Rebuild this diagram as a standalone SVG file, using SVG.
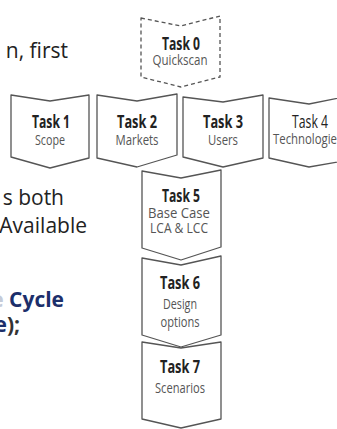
<svg xmlns="http://www.w3.org/2000/svg" width="337" height="429" viewBox="0 0 337 429">
<style>
.box{fill:#fff;stroke:#555;stroke-width:1.3;stroke-linejoin:round}
.dash{stroke-dasharray:4 3}
.t{font-family:"Open Sans","Noto Sans",sans-serif;font-size:17.5px;font-weight:bold;fill:#222;text-anchor:middle}
.s{font-family:"Open Sans","Noto Sans",sans-serif;font-size:14.5px;fill:#555;text-anchor:middle}
.p{font-family:"Open Sans","Noto Sans",sans-serif;font-size:21px;fill:#222;text-anchor:end}
.b{font-family:"Open Sans","Noto Sans",sans-serif;font-size:21px;font-weight:bold;fill:#1c2f6b;text-anchor:end}
</style>
<rect width="337" height="429" fill="#fff"/>
<g id="page-text">
<text class="p" x="68" y="58">n, first</text>
<text class="p" x="64" y="205">s both</text>
<text class="p" x="87" y="233">Available</text>
<text class="b" x="64" y="307"><tspan fill="#c5cbd8">e</tspan> Cycle</text>
<text class="b" x="20" y="332">e<tspan fill="#333">);</tspan></text>
</g>
<g id="connectors"></g>
<g id="task0">
<path class="box dash" d="M141,18 L181,26 L220,16 L220,77 L181,87 L141,77 Z"/>
<text class="t" x="181" y="50" textLength="38" lengthAdjust="spacingAndGlyphs">Task 0</text>
<text class="s" x="180" y="65" textLength="55" lengthAdjust="spacingAndGlyphs">Quickscan</text>
</g>
<g id="task1">
<path class="box" d="M11,95 L50,101 L89,95 L89,158 L50,168 L11,157 Z"/>
<text class="t" x="51" y="128" textLength="38" lengthAdjust="spacingAndGlyphs">Task 1</text>
<text class="s" x="50" y="145" textLength="30" lengthAdjust="spacingAndGlyphs">Scope</text>
</g>
<g id="task2">
<path class="box" d="M97,95 L137,101 L177,94 L177,155 L137,167 L97,158 Z"/>
<text class="t" x="137" y="128" textLength="40" lengthAdjust="spacingAndGlyphs">Task 2</text>
<text class="s" x="137" y="145" textLength="43" lengthAdjust="spacingAndGlyphs">Markets</text>
</g>
<g id="task3">
<path class="box" d="M183,97 L223,102 L263,95 L263,158 L223,167 L183,157 Z"/>
<text class="t" x="223" y="128" textLength="40" lengthAdjust="spacingAndGlyphs">Task 3</text>
<text class="s" x="223" y="145" textLength="30" lengthAdjust="spacingAndGlyphs">Users</text>
</g>
<g id="task4">
<path class="box" d="M269,98 L309,104 L349,96 L349,160 L309,167 L269,158 Z"/>
<text class="t" x="310" y="128" textLength="36" lengthAdjust="spacingAndGlyphs" style="font-weight:normal">Task 4</text>
<text class="s" x="273" y="144" textLength="64" lengthAdjust="spacingAndGlyphs" style="text-anchor:start">Technologie</text>
</g>
<g id="task5">
<path class="box" d="M142,171 L181,178 L221,170 L221,247 L181,260 L142,248 Z"/>
<text class="t" x="181" y="202" textLength="38" lengthAdjust="spacingAndGlyphs">Task 5</text>
<text class="s" x="179" y="218" textLength="62" lengthAdjust="spacingAndGlyphs">Base Case</text>
<text class="s" x="179" y="233" textLength="58" lengthAdjust="spacingAndGlyphs">LCA &amp; LCC</text>
</g>
<g id="task6">
<path class="box" d="M142,258 L181,265 L221,256 L221,335 L181,347 L142,335 Z"/>
<text class="t" x="180" y="289" textLength="40" lengthAdjust="spacingAndGlyphs">Task 6</text>
<text class="s" x="180" y="309" textLength="34" lengthAdjust="spacingAndGlyphs">Design</text>
<text class="s" x="180" y="327" textLength="39" lengthAdjust="spacingAndGlyphs">options</text>
</g>
<g id="task7">
<path class="box" d="M142,342 L181,348 L221,342 L221,419 L181,428 L142,419 Z"/>
<text class="t" x="180" y="373" textLength="40" lengthAdjust="spacingAndGlyphs">Task 7</text>
<text class="s" x="180" y="393" textLength="50" lengthAdjust="spacingAndGlyphs">Scenarios</text>
</g>
</svg>
